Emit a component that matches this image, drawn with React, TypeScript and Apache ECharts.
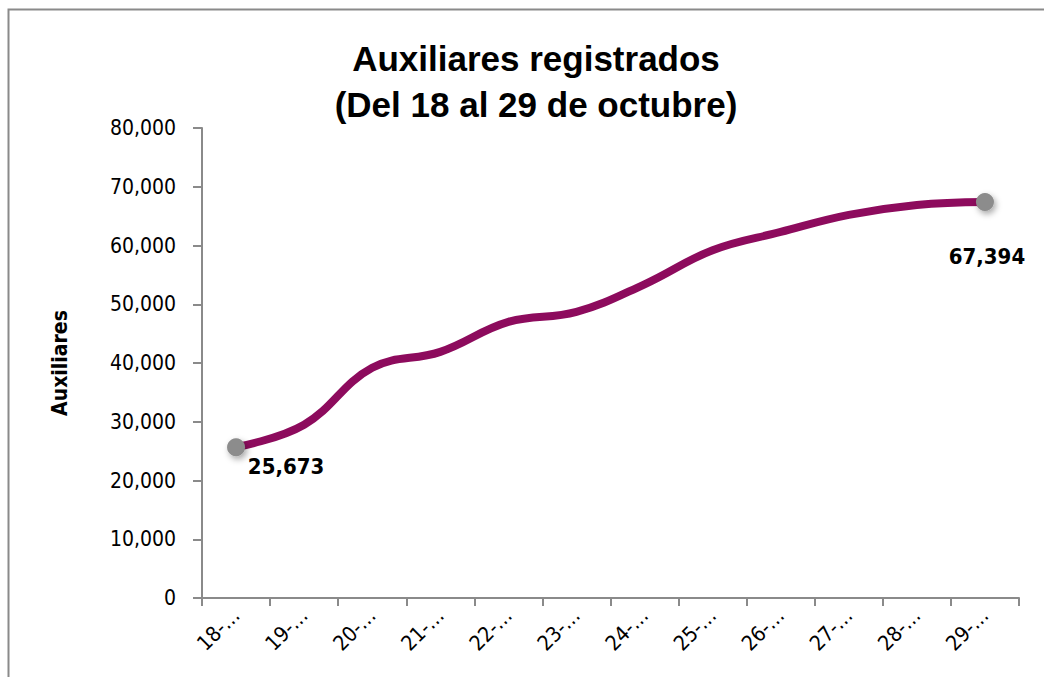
import React, { useEffect, useRef } from "react";
import * as echarts from "echarts";

const categories = ["18-oct", "19-oct", "20-oct", "21-oct", "22-oct", "23-oct", "24-oct", "25-oct", "26-oct", "27-oct", "28-oct", "29-oct"];
const values = [25673, 29500, 39200, 41900, 47000, 48700, 53400, 59200, 62300, 65200, 66900, 67394];
const yTicks = [0, 10000, 20000, 30000, 40000, 50000, 60000, 70000, 80000];

const FONT = "'DejaVu Sans Condensed', 'Liberation Sans', Arial, sans-serif";
const TITLE_FONT = "'Liberation Sans', Arial, sans-serif";

export default function App() {
  const ref = useRef<HTMLDivElement>(null);
  useEffect(() => {
    if (!ref.current) return;
    const chart = echarts.init(ref.current, undefined, { renderer: "svg" });
    const last = values.length - 1;
    const data = values.map((v, i) => {
      if (i === 0 || i === last) {
        return {
          value: v,
          symbol: "circle",
          symbolSize: 18,
          label: {
            show: true,
            position: "inside",
            offset: i === 0 ? [50, 19] : [2, 54],
          },
        };
      }
      return { value: v, symbol: "none" };
    });
    chart.setOption({
      animation: false,
      backgroundColor: "#ffffff",
      graphic: [
        {
          type: "rect",
          shape: { x: 8.5, y: 9.5, width: 1100, height: 700 },
          style: { fill: "none", stroke: "#8a8a8a", lineWidth: 2 },
          silent: true,
        },
      ],
      title: {
        text: "Auxiliares registrados\n(Del 18 al 29 de octubre)",
        left: 531,
        textAlign: "center",
        top: 30,
        textStyle: {
          fontFamily: TITLE_FONT,
          fontWeight: "bold",
          fontSize: 35,
          lineHeight: 46,
          color: "#000",
        },
      },
      grid: { left: 202, right: 25, top: 128, bottom: 79, containLabel: false },
      xAxis: {
        type: "category",
        data: categories,
        boundaryGap: true,
        axisLine: { lineStyle: { color: "#8a8a8a", width: 2 } },
        axisTick: { show: true, length: 8, lineStyle: { color: "#8a8a8a", width: 2 } },
        axisLabel: {
          rotate: 45,
          interval: 0,
          margin: 14,
          fontFamily: FONT,
          fontSize: 21,
          color: "#000",
          formatter: (v: string) => v.split("-")[0] + "-…",
        },
      },
      yAxis: {
        type: "value",
        min: 0,
        max: 80000,
        interval: 10000,
        name: "Auxiliares",
        nameLocation: "middle",
        nameGap: 132,
        nameTextStyle: { fontFamily: FONT, fontWeight: "bold", fontSize: 21, color: "#000" },
        axisLine: { show: true, lineStyle: { color: "#8a8a8a", width: 2 } },
        axisTick: { show: true, length: 9, lineStyle: { color: "#8a8a8a", width: 2 } },
        splitLine: { show: false },
        axisLabel: {
          margin: 26,
          fontFamily: FONT,
          fontSize: 21,
          color: "#000",
          formatter: (v: number) => (yTicks.includes(v) ? v.toLocaleString("en-US") : ""),
        },
      },
      series: [
        {
          type: "line",
          data,
          smooth: 0.4,
          showSymbol: true,
          lineStyle: { color: "#8d0b5d", width: 8, cap: "round" },
          itemStyle: {
            color: "#8c8c8c",
            shadowBlur: 6,
            shadowColor: "rgba(0,0,0,0.35)",
            shadowOffsetX: 2,
            shadowOffsetY: 3,
          },
          label: {
            fontFamily: FONT,
            fontWeight: "bold",
            fontSize: 22,
            color: "#000",
            formatter: (p: any) => Number(p.value).toLocaleString("en-US"),
          },
          z: 3,
        },
      ],
    });
    return () => chart.dispose();
  }, []);
  return (
    <div
      ref={ref}
      style={{ position: "fixed", left: 0, top: 0, width: 1044, height: 677 }}
    />
  );
}
